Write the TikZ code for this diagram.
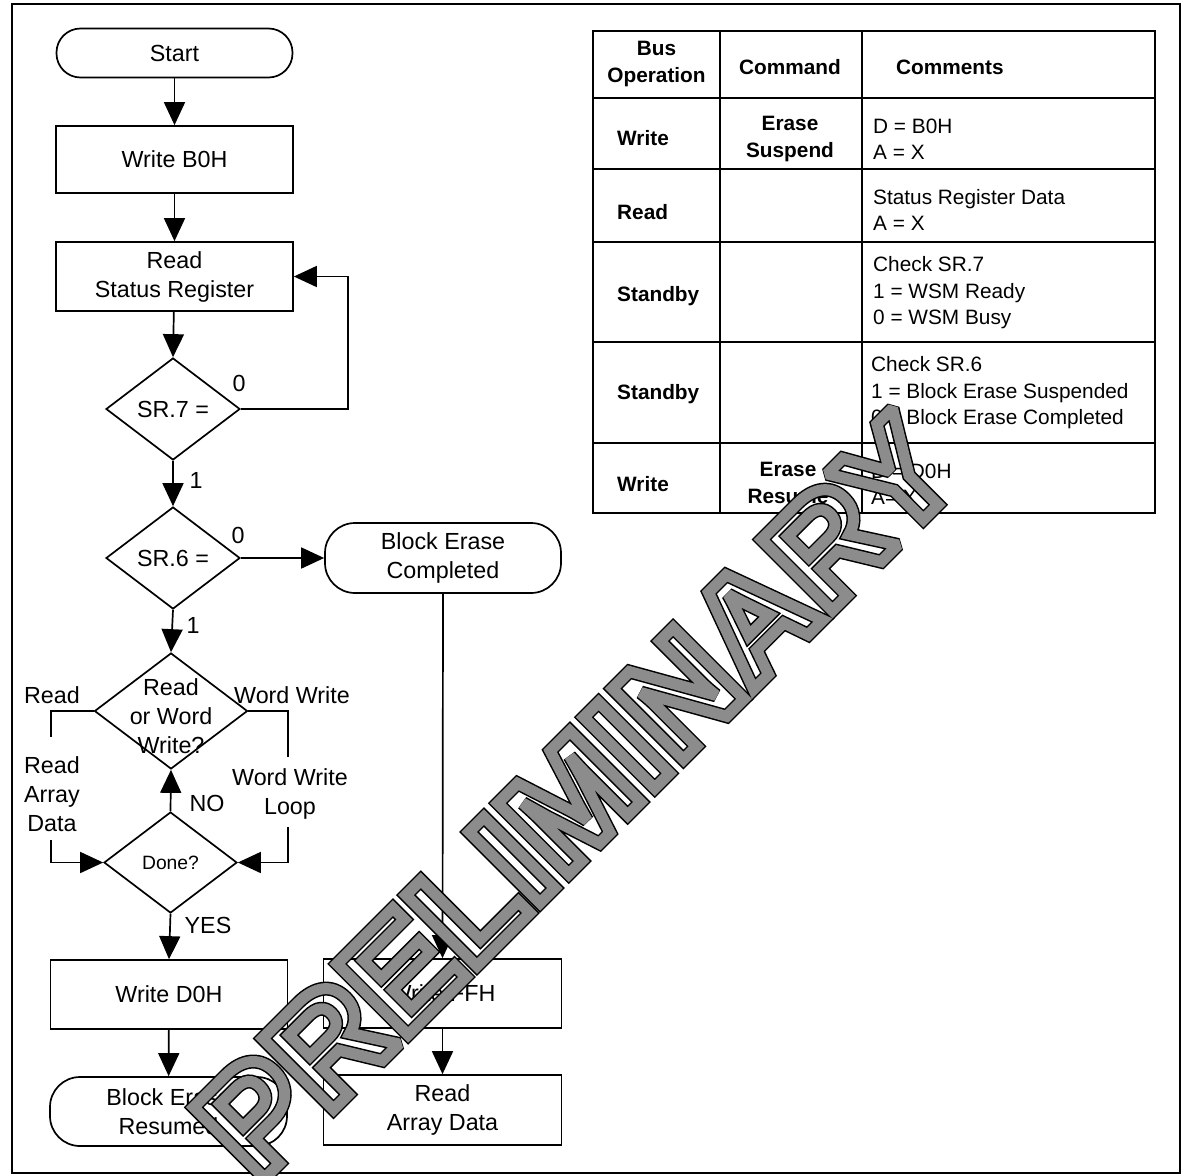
\documentclass[tikz,border=0pt]{standalone}
\usepackage{fontspec}
\setmainfont{Liberation Sans}
\usetikzlibrary{arrows.meta,shapes.geometric}
\newcommand\flowfont{\fontsize{23.3}{29}\selectfont}
\newcommand\smallflowfont{\fontsize{19.3}{24}\selectfont}
\newcommand\tabfont{\fontsize{20.8}{26.5}\selectfont}
\newcommand\wmfont{\fontsize{146}{146}\selectfont\bfseries}
% outlined (stroked) text: #1 stroke width, #2 grey level, #3 text
\newcommand\strokedtext[3]{\special{pdf:literal direct 1 Tr 0 j 2 M #1 w #2 G}#3\special{pdf:literal direct 0 Tr 10 M 0 G 1 w}}
\begin{document}
\begin{tikzpicture}[x=1pt,y=-1pt,
  ln/.style={line width=1.7pt},
  arr/.style={ln,-{Triangle[length=23pt,width=21pt]}},
  box/.style={draw,ln,rectangle,minimum width=237pt,minimum height=69pt,inner sep=0pt,align=center,font=\flowfont},
  term/.style={box,rounded corners=30pt},
  dia/.style={draw,ln,diamond,inner sep=0pt,minimum width=134pt,minimum height=102pt},
  lbl/.style={font=\flowfont,inner sep=0pt,align=center},
  tline/.style={line width=1.4pt},
  thead/.style={font=\tabfont\bfseries,align=center,inner sep=0pt},
  tbold/.style={font=\tabfont\bfseries,anchor=west,inner sep=0pt},
  tcell/.style={font=\tabfont,align=left,anchor=west,inner sep=0pt},
  stamp/.style={rotate=45,font=\wmfont,inner sep=0pt}]

\fill[white] (0,0) rectangle (1182,1175);
\useasboundingbox (0,0) rectangle (1182,1175);

% outer frame
\draw[line width=1.6pt] (12,4) rectangle (1180,1173);

% ---------------- flowchart ----------------
\node[box,rounded corners=24pt,minimum height=49pt,minimum width=236pt] (start) at (174.5,53) {Start};
\node[box,minimum height=67pt] (wb0) at (174.5,159.5) {Write B0H};
\node[box] (rsr) at (174.5,276.5) {Read\\Status Register};
\node[dia] (sr7) at (173,409) {};
\node[lbl] at (sr7) {SR.7 =};
\node[dia] (sr6) at (173,558) {};
\node[lbl] at (sr6) {SR.6 =};
\node[term,minimum width=236pt,minimum height=70pt] (bec) at (443,558) {Block Erase\\Completed};
\node[dia,minimum width=153pt,minimum height=116pt] (rw) at (171,711) {};
\node[lbl] at (171,716) {Read\\or Word\\Write?};
\node[dia,minimum width=133pt,minimum height=101pt] (done) at (170.5,862.5) {};
\node[lbl,font=\smallflowfont] at (done) {Done?};
\node[box] (wd0) at (169,994.5) {Write D0H};
\node[term] (ber) at (168.5,1111.5) {Block Erase\\Resumed};
\node[box,minimum width=238pt] (wff) at (442.5,993.5) {Write FFH};
\node[box,minimum width=238pt,minimum height=70pt] (rad) at (442.5,1110) {Read\\Array Data};

% bend points of the side loops
\coordinate (fb) at (348,409);
\coordinate (lt1) at (51,737);
\coordinate (lt2) at (51,840);
\coordinate (rt1) at (288,757);
\coordinate (rt2) at (288,827);

% connectors
\draw[arr] (start) -- (wb0);
\draw[arr] (wb0) -- (rsr);
\draw[arr] (rsr) -- (sr7.north);
\draw[arr] (sr7.east) -- (fb) |- (rsr.east);
\draw[arr] (sr7.south) -- (sr6.north);
\draw[arr] (sr6.east) -- (bec.west);
\draw[arr] (sr6.south) -- (rw.north);
\draw[ln] (rw.west) -| (lt1);
\draw[arr] (lt2) |- (done.west);
\draw[ln] (rw.east) -| (rt1);
\draw[arr] (rt2) |- (done.east);
\draw[arr] (done.north) -- (rw.south);
\draw[arr] (done.south) -- (wd0.north);
\draw[arr] (wd0) -- (ber);
\draw[arr] (bec.south) -- (wff.north);
\draw[arr] (wff) -- (rad);

% branch labels
\node[lbl] at (239,383) {0};
\node[lbl] at (196,480) {1};
\node[lbl] at (238,535) {0};
\node[lbl] at (193,625) {1};
\node[lbl] at (52,695) {Read};
\node[lbl] at (292,695) {Word Write};
\node[lbl] at (52,794) {Read\\Array\\Data};
\node[lbl] at (290,794) {Word Write\\Loop};
\node[lbl] at (207,803) {NO};
\node[lbl] at (208,925) {YES};

% ---------------- bus operation table ----------------
\draw[tline] (593,31) rectangle (1155,513);
\foreach \yy in {98,169,242,342,443} \draw[tline] (593,\yy) -- (1155,\yy);
\draw[tline] (720,31) -- (720,513);
\draw[tline] (862,31) -- (862,513);

\node[thead] at (656.5,64) {Bus\\Operation};
\node[thead] at (790,67) {Command};
\node[tbold] at (896,67) {Comments};

\node[tbold] at (617,138) {Write};
\node[thead] at (790,139) {Erase\\Suspend};
\node[tcell] at (873,139) {D = B0H\\A = X};

\node[tbold] at (617,212) {Read};
\node[tcell] at (873,210) {Status Register Data\\A = X};

\node[tbold] at (617,296) {Standby};
\node[tcell] at (873,293) {Check SR.7\\1 = WSM Ready\\0 = WSM Busy};

\node[tbold] at (617,394) {Standby};
\node[tcell] at (871,393) {Check SR.6\\1 = Block Erase Suspended\\0 = Block Erase Completed};

\node[tbold] at (617,484) {Write};
\node[thead] at (788,483) {Erase\\Resume};
\node[tcell] at (871,484) {D = D0H\\A= X};

% ---------------- stamped watermark ----------------
\node[stamp] (wmA) at (576,796) {\strokedtext{14}{0}{PRELIMINARY}};
\node[stamp] (wmB) at (576,796) {\strokedtext{11}{0.55}{PRELIMINARY}};
\end{tikzpicture}
\end{document}
